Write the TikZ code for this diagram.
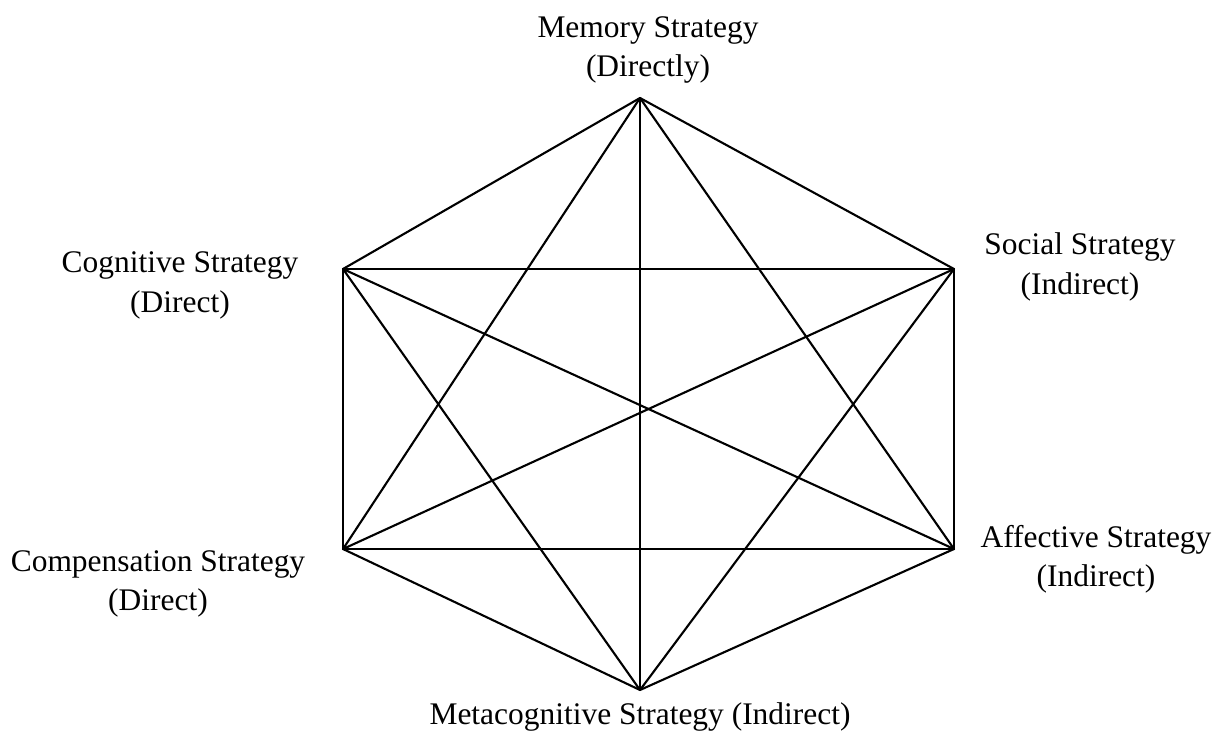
\documentclass[tikz,border=0pt]{standalone}
\usepackage{fontspec}
\setmainfont{Liberation Serif}
\usepackage{tikz}
\usetikzlibrary{positioning, calc}

\tikzset{
	lbl/.style={anchor=base, align=center, inner sep=0pt, font=\fontsize{17.9}{22.2}\selectfont},
	edge/.style={line width=1.2pt, line cap=round, line join=round}
}

\begin{document}
\begin{tikzpicture}[x=0.02cm, y=-0.02cm]
	\useasboundingbox (0,0) rectangle (1216,733);
	
	% corners of the hexagon
	\coordinate (mem) at (640, 98);
	\coordinate (soc) at (954, 269);
	\coordinate (aff) at (954, 549);
	\coordinate (met) at (640, 690);
	\coordinate (com) at (343, 549);
	\coordinate (cog) at (343, 269);
	
	% every corner joined to every other one
	\foreach \a/\b in {mem/soc, mem/aff, mem/met, mem/com, mem/cog,
		soc/aff, soc/met, soc/com, soc/cog,
		aff/met, aff/com, aff/cog,
		met/com, met/cog,
		com/cog}
	\draw [edge] (\a) -- (\b);
	
	% labels (base = baseline of the last line)
	\node [lbl] (memlbl) at (648, 77) {Memory Strategy\\(Directly)};
	\node [lbl] (soclbl) at (1080, 294) {Social Strategy\\(Indirect)};
	\node [lbl] (afflbl) at (1096, 586) {Affective Strategy\\(Indirect)};
	\node [lbl] (metlbl) at (640, 724) {Metacognitive Strategy (Indirect)};
	\node [lbl] (comlbl) at (158, 610) {Compensation Strategy\\(Direct)};
	\node [lbl] (coglbl) at (180, 312) {Cognitive Strategy\\(Direct)};
\end{tikzpicture}
\end{document}
